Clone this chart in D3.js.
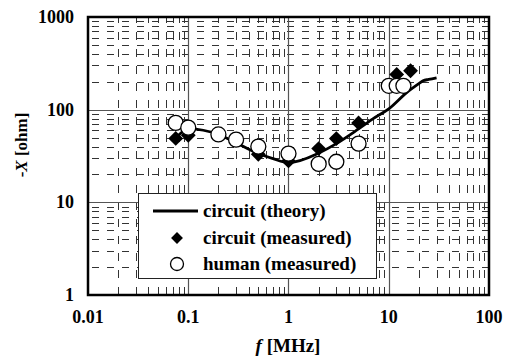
<!DOCTYPE html>
<html>
<head>
<meta charset="utf-8">
<script src="https://cdn.jsdelivr.net/npm/d3@7"></script>
<style>
body { margin:0; background:#fff; }
text { font-family: "Liberation Serif", "Times New Roman", serif; font-weight: bold; }
</style>
</head>
<body>
<div id="chart"></div>
<script>
// circuit (theory) curve
var theoryF = [0.075, 0.1, 0.2, 0.3, 0.5, 0.7, 1, 2, 3, 5, 7, 10, 15, 20, 22, 25, 30];
var theoryX = [49, 62, 54, 44, 33.6, 29.6, 26.8, 34, 43, 62, 80, 102, 152, 191, 205, 212, 221];
// circuit (measured)
var circF = [0.075, 0.1, 0.5, 1, 2, 3, 5, 12, 16.5];
var circX = [49, 53, 33, 28, 38, 48.7, 72, 240, 263];
// human (measured)
var humF = [0.075, 0.1, 0.2, 0.3, 0.5, 1, 2, 3, 5, 10, 12, 14];
var humX = [72, 64, 54, 47.5, 40, 33.6, 26, 27.4, 43, 181, 181, 181];

var xTicks = [0.01, 0.1, 1, 10, 100];
var yTicks = [1, 10, 100, 1000];
var legendLabels = ["circuit (theory)", "circuit (measured)", "human (measured)"];

var W = 510, H = 356;
var pLeft = 88, pRight = 489, pTop = 17, pBottom = 295;

var svg = d3.select("#chart").append("svg")
    .attr("width", W)
    .attr("height", H);

var x = d3.scaleLog().domain([0.01, 100]).range([pLeft, pRight]);
var y = d3.scaleLog().domain([1, 1000]).range([pBottom, pTop]);

// minor grid values
var minorX = [], minorY = [];
[0.01, 0.1, 1, 10].forEach(function(d) {
    for (var k = 2; k <= 9; k++) minorX.push(d * k);
});
[1, 10, 100].forEach(function(d) {
    for (var k = 2; k <= 9; k++) minorY.push(d * k);
});

var grid = svg.append("g");

grid.selectAll(".hminor")
    .data(minorY)
    .enter().append("line")
    .attr("x1", pLeft).attr("x2", pRight)
    .attr("y1", function(d) { return Math.round(y(d)) + 0.5; })
    .attr("y2", function(d) { return Math.round(y(d)) + 0.5; })
    .style("stroke", "#333")
    .style("stroke-width", 1)
    .style("stroke-dasharray", "7,8")
    .style("stroke-dashoffset", -4);

grid.selectAll(".vminor")
    .data(minorX)
    .enter().append("line")
    .attr("x1", function(d) { return Math.round(x(d)) + 0.5; })
    .attr("x2", function(d) { return Math.round(x(d)) + 0.5; })
    .attr("y1", pBottom).attr("y2", pTop)
    .style("stroke", "#333")
    .style("stroke-width", 1)
    .style("stroke-dasharray", "8,9");

grid.selectAll(".vmajor")
    .data(xTicks.slice(1, -1))
    .enter().append("line")
    .attr("x1", function(d) { return Math.round(x(d)) + 0.5; })
    .attr("x2", function(d) { return Math.round(x(d)) + 0.5; })
    .attr("y1", pBottom).attr("y2", pTop)
    .style("stroke", "#555")
    .style("stroke-width", 1.2);

grid.selectAll(".hmajor")
    .data(yTicks.slice(1, -1))
    .enter().append("line")
    .attr("x1", pLeft).attr("x2", pRight)
    .attr("y1", function(d) { return Math.round(y(d)) + 0.5; })
    .attr("y2", function(d) { return Math.round(y(d)) + 0.5; })
    .style("stroke", "#555")
    .style("stroke-width", 1.2);

// legend box (drawn over grid)
var lg = svg.append("g");
lg.append("rect")
    .attr("x", 138.5).attr("y", 193.5)
    .attr("width", 238).attr("height", 85)
    .style("fill", "#fff")
    .style("stroke", "#222")
    .style("stroke-width", 1);

// theory line
var line = d3.line()
    .x(function(d, i) { return x(theoryF[i]); })
    .y(function(d) { return y(d); })
    .curve(d3.curveMonotoneX);

svg.append("path")
    .datum(theoryX)
    .attr("d", line)
    .style("fill", "none")
    .style("stroke", "#000")
    .style("stroke-width", 2.8);

var diamond = d3.symbol().type(d3.symbolDiamond2).size(140);

svg.selectAll(".dia")
    .data(circX)
    .enter().append("path")
    .attr("d", diamond)
    .attr("transform", function(d, i) {
        return "translate(" + x(circF[i]) + "," + y(d) + ")";
    })
    .style("fill", "#000");

svg.selectAll(".circ")
    .data(humX)
    .enter().append("circle")
    .attr("cx", function(d, i) { return x(humF[i]); })
    .attr("cy", function(d) { return y(d); })
    .attr("r", 7.5)
    .style("fill", "#fff")
    .style("stroke", "#000")
    .style("stroke-width", 1.3);

// legend entries
lg.append("line")
    .attr("x1", 153).attr("x2", 198)
    .attr("y1", 211).attr("y2", 211)
    .style("stroke", "#000")
    .style("stroke-width", 2.8);
lg.append("path")
    .attr("d", diamond)
    .attr("transform", "translate(177,238) scale(0.8)")
    .style("fill", "#000");
lg.append("circle")
    .attr("cx", 177).attr("cy", 264).attr("r", 6.5)
    .style("fill", "#fff")
    .style("stroke", "#000")
    .style("stroke-width", 1.3);
lg.selectAll(".lt")
    .data(legendLabels)
    .enter().append("text")
    .attr("x", 203)
    .attr("y", function(d, i) { return 217 + i * 26.5; })
    .style("font-size", "19px")
    .text(function(d) { return d; });

// frame
svg.append("rect")
    .attr("x", pLeft).attr("y", pTop)
    .attr("width", pRight - pLeft).attr("height", pBottom - pTop)
    .style("fill", "none")
    .style("stroke", "#000")
    .style("stroke-width", 2.5);

// tick labels
svg.selectAll(".yl")
    .data(yTicks)
    .enter().append("text")
    .attr("x", 74)
    .attr("y", function(d) { return y(d) + 6; })
    .attr("text-anchor", "end")
    .style("font-size", "18px")
    .text(function(d) { return d; });

svg.selectAll(".xl")
    .data(xTicks)
    .enter().append("text")
    .attr("x", function(d) { return x(d); })
    .attr("y", 323)
    .attr("text-anchor", "middle")
    .style("font-size", "18px")
    .text(function(d) { return d; });

// axis titles
var xt = svg.append("text")
    .attr("x", 288).attr("y", 352)
    .attr("text-anchor", "middle")
    .style("font-size", "19px");
xt.append("tspan").style("font-style", "italic").text("f");
xt.append("tspan").text(" [MHz]");

var yt = svg.append("text")
    .attr("transform", "translate(27,145) rotate(-90)")
    .attr("text-anchor", "middle")
    .style("font-size", "17px");
yt.append("tspan").text("-");
yt.append("tspan").style("font-style", "italic").text("X");
yt.append("tspan").text(" [ohm]");
</script>
</body>
</html>
